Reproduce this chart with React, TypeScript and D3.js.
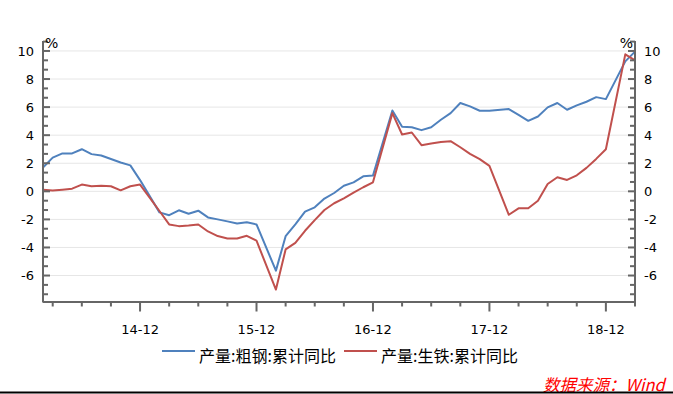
import * as d3 from 'd3';
import React, { useEffect, useRef } from 'react';

// months with data (Jan is merged into Feb in the Chinese statistics)
const months = [
  '2014-02', '2014-03', '2014-04', '2014-05', '2014-06', '2014-07', '2014-08', '2014-09', '2014-10', '2014-11', '2014-12',
  '2015-02', '2015-03', '2015-04', '2015-05', '2015-06', '2015-07', '2015-08', '2015-09', '2015-10', '2015-11', '2015-12',
  '2016-02', '2016-03', '2016-04', '2016-05', '2016-06', '2016-07', '2016-08', '2016-09', '2016-10', '2016-11', '2016-12',
  '2017-02', '2017-03', '2017-04', '2017-05', '2017-06', '2017-07', '2017-08', '2017-09', '2017-10', '2017-11', '2017-12',
  '2018-02', '2018-03', '2018-04', '2018-05', '2018-06', '2018-07', '2018-08', '2018-09', '2018-10', '2018-11', '2018-12',
  '2019-02', '2019-03',
];

const steel = [
  1.7, 2.4, 2.7, 2.7, 3.0, 2.65, 2.55, 2.3, 2.05, 1.85, 0.8,
  -1.5, -1.7, -1.35, -1.6, -1.38, -1.86, -2.0, -2.14, -2.29, -2.21, -2.36,
  -5.65, -3.2, -2.36, -1.45, -1.14, -0.52, -0.12, 0.4, 0.64, 1.07, 1.12,
  5.76, 4.6, 4.57, 4.36, 4.57, 5.1, 5.57, 6.29, 6.05, 5.74, 5.74,
  5.86, 5.45, 5.02, 5.33, 5.98, 6.29, 5.81, 6.12, 6.38, 6.71, 6.57,
  9.26, 9.95,
];

const pigIron = [
  0.12, 0.05, 0.12, 0.19, 0.48, 0.36, 0.4, 0.36, 0.07, 0.36, 0.48,
  -1.4, -2.36, -2.48, -2.43, -2.36, -2.86, -3.19, -3.36, -3.36, -3.17, -3.52,
  -7.0, -4.14, -3.67, -2.81, -2.05, -1.33, -0.85, -0.5, -0.1, 0.29, 0.64,
  5.57, 4.05, 4.19, 3.29, 3.4, 3.52, 3.57, 3.14, 2.67, 2.29, 1.81,
  -1.67, -1.21, -1.21, -0.67, 0.52, 1.0, 0.81, 1.14, 1.67, 2.31, 3.0,
  9.76, 9.33,
];

const xTickLabels = ['14-12', '15-12', '16-12', '17-12', '18-12'];
const yTickValues = [-6, -4, -2, 0, 2, 4, 6, 8, 10];
const seriesNames = ['产量:粗钢:累计同比', '产量:生铁:累计同比'];
const seriesColors = ['#4f81bd', '#c0504d'];

const monthIndex = (s) => {
  const [y, m] = s.split('-').map(Number);
  return (y - 2014) * 12 + (m - 2);
};

const App = () => {
  const ref = useRef<SVGSVGElement | null>(null);

  useEffect(() => {
    document.body.style.margin = '0';
    if (!ref.current) return;
    const svg = d3.select(ref.current);
    svg.selectAll('*').remove();

    const left = 43;
    const right = 635;
    const top = 41;
    const bottom = 301.5;
    const font = '"DejaVu Sans", sans-serif';
    const cjk = '"Noto Sans CJK SC", sans-serif';
    const axisColor = '#666';

    const x = d3.scaleLinear().domain([0, monthIndex('2019-03')]).range([left, right]);
    const y = d3.scaleLinear().domain([-7.85, 10.71]).range([bottom, top]);

    // grid
    svg
      .append('g')
      .selectAll('line')
      .data(yTickValues)
      .enter()
      .append('line')
      .attr('x1', left)
      .attr('x2', right)
      .attr('y1', (d) => y(d))
      .attr('y2', (d) => y(d))
      .attr('stroke', '#e6e6e6')
      .attr('stroke-width', 1);

    // lines
    const line = d3
      .line<number>()
      .x((d, i) => x(monthIndex(months[i])))
      .y((d) => y(d));

    [steel, pigIron].forEach((vals, k) => {
      svg
        .append('path')
        .datum(vals)
        .attr('d', line)
        .attr('fill', 'none')
        .attr('stroke', seriesColors[k])
        .attr('stroke-width', 2)
        .attr('stroke-linejoin', 'round');
    });

    // y axes
    const minor = d3.range(-22, 33, 2).map((d) => d / 3).filter((d) => Math.abs(d - Math.round(d / 2) * 2) > 0.01);
    const ax = svg.append('g');
    [left, right].forEach((xx, side) => {
      const dir = side === 0 ? 1 : -1;
      ax.append('line').attr('x1', xx).attr('x2', xx).attr('y1', top).attr('y2', bottom + 1).attr('stroke', axisColor).attr('stroke-width', 2);
      yTickValues.forEach((v) => {
        ax.append('line').attr('x1', xx).attr('x2', xx + dir * 7).attr('y1', y(v)).attr('y2', y(v)).attr('stroke', axisColor).attr('stroke-width', 2);
        ax.append('text')
          .attr('x', side === 0 ? xx - 9 : xx + 9)
          .attr('y', y(v))
          .attr('dy', '0.36em')
          .attr('text-anchor', side === 0 ? 'end' : 'start')
          .attr('font-family', font)
          .attr('font-size', 13)
          .attr('fill', '#000')
          .text(v);
      });
      minor.forEach((v) => {
        ax.append('line').attr('x1', xx).attr('x2', xx + dir * 5).attr('y1', y(v)).attr('y2', y(v)).attr('stroke', axisColor).attr('stroke-width', 2);
      });
      ax.append('text')
        .attr('x', side === 0 ? xx + 2 : xx - 2)
        .attr('y', 48)
        .attr('text-anchor', side === 0 ? 'start' : 'end')
        .attr('font-family', font)
        .attr('font-size', 14)
        .attr('fill', '#000')
        .text('%');
    });

    // x axis
    ax.append('line').attr('x1', left).attr('x2', right).attr('y1', bottom + 0.5).attr('y2', bottom + 0.5).attr('stroke', axisColor).attr('stroke-width', 2);
    d3.range(1, monthIndex('2019-03') + 1, 3).forEach((m) => {
      const major = (m - 10) % 12 === 0;
      ax.append('line')
        .attr('x1', x(m))
        .attr('x2', x(m))
        .attr('y1', bottom)
        .attr('y2', bottom + (major ? 10 : 5))
        .attr('stroke', axisColor)
        .attr('stroke-width', 2);
    });
    xTickLabels.forEach((lab, i) => {
      ax.append('text')
        .attr('x', x(10 + i * 12))
        .attr('y', 329)
        .attr('dy', '0.36em')
        .attr('text-anchor', 'middle')
        .attr('font-family', font)
        .attr('font-size', 13)
        .attr('fill', '#000')
        .text(lab);
    });

    // legend
    const legendX = [162, 344];
    seriesNames.forEach((name, k) => {
      svg.append('line')
        .attr('x1', legendX[k])
        .attr('x2', legendX[k] + 33)
        .attr('y1', 351)
        .attr('y2', 351)
        .attr('stroke', seriesColors[k])
        .attr('stroke-width', 2);
      svg.append('text')
        .attr('x', legendX[k] + 37)
        .attr('y', 354.5)
        .attr('dominant-baseline', 'central')
        .attr('font-family', cjk)
        .attr('font-size', 16)
        .attr('fill', '#000')
        .text(name);
    });

    // source
    svg.append('text')
      .attr('x', 543)
      .attr('y', 383.5)
      .attr('dominant-baseline', 'central')
      .attr('font-family', cjk)
      .attr('font-style', 'italic')
      .attr('font-size', 16.5)
      .attr('fill', '#ff0000')
      .text('数据来源：Wind');

    svg.append('line').attr('x1', 0).attr('x2', 673).attr('y1', 392.5).attr('y2', 392.5).attr('stroke', '#000').attr('stroke-width', 2);
  }, []);

  return <svg ref={ref} width={673} height={394} style={{ display: 'block', background: '#fff' }} />;
};

export default App;
